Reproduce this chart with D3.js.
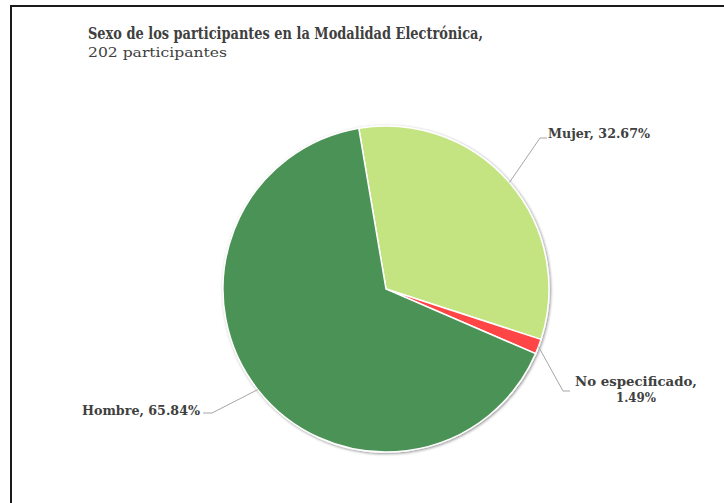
<!DOCTYPE html>
<html>
<head>
<meta charset="utf-8">
<script src="https://cdn.jsdelivr.net/npm/d3@7"></script>
<style>
body { margin: 0; background: #fff; }
svg text { font-family: "DejaVu Serif", "Liberation Serif", serif; fill: #404040; }
</style>
</head>
<body>
<svg width="724" height="503"></svg>
<script>
var categories = ["Mujer", "No especificado", "Hombre"];
var values = [32.67, 1.49, 65.84];
var colors = ["#c3e480", "#ff4545", "#4b9256"];
var labels = [["Mujer, 32.67%"], ["No especificado,", "1.49%"], ["Hombre, 65.84%"]];

var svg = d3.select("svg");

svg.append("rect")
    .attr("x", 11).attr("y", 6)
    .attr("width", 730).attr("height", 520)
    .attr("fill", "none")
    .attr("stroke", "#1a1a1a")
    .attr("stroke-width", 2);

// DejaVu is wider than the original face, so squeeze it to the measured widths
svg.append("text")
    .attr("x", 88).attr("y", 39)
    .attr("font-size", 16.5).attr("font-weight", "bold")
    .attr("textLength", 395).attr("lengthAdjust", "spacingAndGlyphs")
    .text("Sexo de los participantes  en la Modalidad Electrónica,");
svg.append("text")
    .attr("x", 88).attr("y", 57)
    .attr("font-size", 13.5)
    .attr("textLength", 139).attr("lengthAdjust", "spacingAndGlyphs")
    .text("202 participantes");

var cx = 386, cy = 289, r = 163;
var startAngle = -9.6 * Math.PI / 180;

var pie = d3.pie().sort(null)
    .startAngle(startAngle)
    .endAngle(startAngle + 2 * Math.PI);
var arcs = pie(values);
var arc = d3.arc().innerRadius(0).outerRadius(r);

var defs = svg.append("defs");
var f = defs.append("filter").attr("id", "sh").attr("x", "-20%").attr("y", "-20%").attr("width", "140%").attr("height", "140%");
f.append("feGaussianBlur").attr("in", "SourceAlpha").attr("stdDeviation", 1.5);
f.append("feOffset").attr("dx", 1).attr("dy", 1).attr("result", "b");
f.append("feComponentTransfer").append("feFuncA").attr("type", "linear").attr("slope", 0.45);
var m = f.append("feMerge");
m.append("feMergeNode");
m.append("feMergeNode").attr("in", "SourceGraphic");

var g = svg.append("g").attr("transform", "translate(" + cx + "," + cy + ")");
g.append("g").attr("filter", "url(#sh)")
    .selectAll("path")
    .data(arcs)
    .enter()
    .append("path")
    .attr("d", arc)
    .attr("fill", function(d, i) { return colors[i]; })
    .attr("stroke", "#fff")
    .attr("stroke-width", 1.5);

// label spots relative to center, with measured widths of each line
var labelPos = [
    {x: 162, y: -151, anchor: "start", elbow: [154, -151], w: [102]},
    {x: 250, y: 97, anchor: "middle", elbow: [177, 102], w: [122, 40]},
    {x: -186, y: 126, anchor: "end", elbow: [-174, 124], w: [118]}
];

arcs.forEach(function(d, i)
{
    var mid = (d.startAngle + d.endAngle) / 2;
    var p0 = [Math.sin(mid) * r, -Math.cos(mid) * r];
    var lp = labelPos[i];
    var ex = lp.elbow[0], ey = lp.elbow[1];
    var hx = i == 2 ? ex - 9 : ex + 7;
    g.append("polyline")
        .attr("points", [p0, [ex, ey], [hx, ey]].map(function(p) { return p.join(","); }).join(" "))
        .attr("fill", "none")
        .attr("stroke", "#a6a6a6")
        .attr("stroke-width", 1);
    labels[i].forEach(function(s, j)
    {
        g.append("text")
            .attr("x", lp.x).attr("y", lp.y + j * 16)
            .attr("text-anchor", lp.anchor)
            .attr("font-size", 13.5).attr("font-weight", "bold")
            .attr("textLength", lp.w[j]).attr("lengthAdjust", "spacingAndGlyphs")
            .text(s);
    });
});
</script>
</body>
</html>
